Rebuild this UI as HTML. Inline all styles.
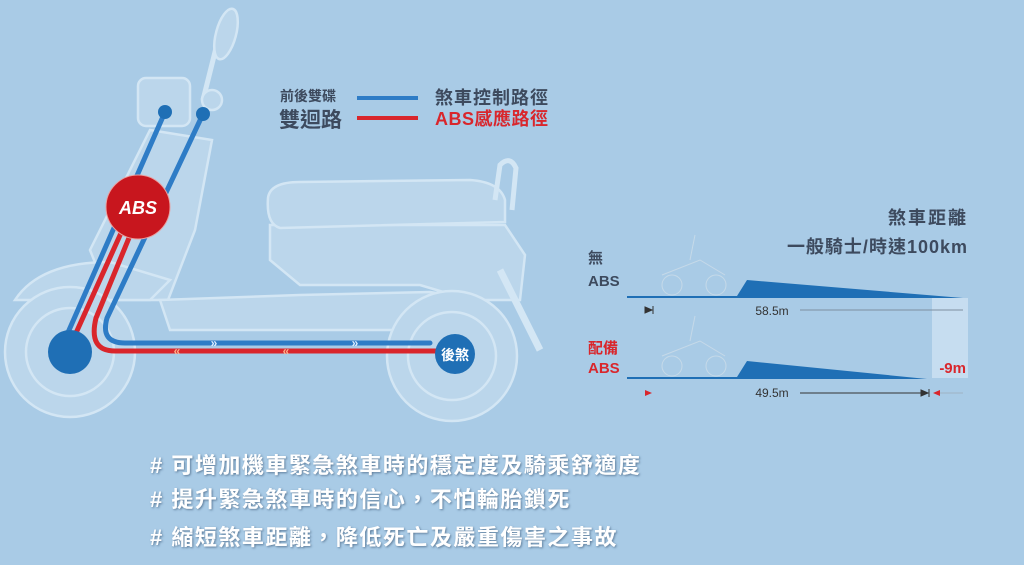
<!DOCTYPE html>
<html><head><meta charset="utf-8"><style>
body{margin:0;background:#a9cbe6;}
svg{display:block}
.t{font-family:"Liberation Sans","Noto Sans CJK TC",sans-serif;}
</style></head><body>
<svg width="1024" height="565" viewBox="0 0 1024 565" xmlns="http://www.w3.org/2000/svg" class="t">
<defs><filter id="sh" x="-5%" y="-30%" width="110%" height="160%"><feDropShadow dx="1" dy="1" stdDeviation="1" flood-color="#3d5a78" flood-opacity="0.7"/></filter></defs>
<rect width="1024" height="565" fill="#a9cbe6"/>
<g fill="#bcd7ec" stroke="#d6e8f5" stroke-width="2.5" opacity="0.95">
 <path d="M203 100 L218 40" fill="none" stroke-width="5"/>
 <ellipse cx="226" cy="34" rx="10" ry="26" transform="rotate(15 226 34)"/>
 <rect x="138" y="78" width="52" height="48" rx="8"/>
 <circle cx="212" cy="100" r="10"/>
 <path d="M150 130 L212 140 L195 230 L168 300 L110 300 L90 250 Z"/>
 <path d="M15 300 Q40 262 110 262 L170 280 L150 300 Z"/>
 <path d="M160 300 L300 295 L430 292 L480 300 L470 330 L170 330 Z"/>
 <path d="M270 225 L505 225 L525 255 L520 300 L470 300 L420 285 L300 285 L270 260 Z"/>
 <path d="M268 198 Q270 182 300 182 L470 180 Q500 182 505 200 L505 222 L280 228 Q266 224 268 198 Z"/>
 <path d="M495 200 L500 165 Q510 155 516 168 L512 210" fill="none" stroke-width="5"/>
 <path d="M500 270 L540 350" fill="none" stroke-width="7"/>
 <circle cx="70" cy="352" r="65"/>
 <circle cx="70" cy="352" r="44" fill="none"/>
 <circle cx="452" cy="356" r="65"/>
 <circle cx="452" cy="356" r="44" fill="none"/>
</g>
<g fill="none" stroke-width="5" stroke-linecap="round">
 <path d="M165 112 L66 337" stroke="#2e7cc6"/>
 <path d="M203 114 L107 318 Q100 343 125 343 L430 343" stroke="#2e7cc6"/>
 <path d="M121 233 L76 333" stroke="#d9262c"/>
 <path d="M131 233 L96 318 Q88 351 115 351 L440 351" stroke="#d9262c"/>
</g>
<g fill="#1f6fb5">
 <circle cx="165" cy="112" r="7"/><circle cx="203" cy="114" r="7"/>
 <circle cx="70" cy="352" r="22"/>
 <circle cx="455" cy="354" r="20"/>
</g>
<text x="455" y="360" font-size="14" font-weight="bold" fill="#fff" text-anchor="middle">後煞</text>
<circle cx="138" cy="207" r="32" fill="#c8161e" stroke="#e9a0a0" stroke-width="1"/>
<text x="138" y="214" font-size="18" font-weight="bold" font-style="italic" fill="#fff" text-anchor="middle">ABS</text>
<g font-size="12" font-weight="bold">
 <text x="214" y="347" fill="#dceeff" text-anchor="middle">»</text>
 <text x="355" y="347" fill="#dceeff" text-anchor="middle">»</text>
 <text x="177" y="355" fill="#ffb08a" text-anchor="middle">«</text>
 <text x="286" y="355" fill="#ffb08a" text-anchor="middle">«</text>
</g>
<text x="280" y="101" font-size="14" font-weight="bold" fill="#3d4a5e">前後雙碟</text>
<text x="279" y="127" font-size="21" font-weight="bold" fill="#3d4a5e">雙迴路</text>
<line x1="357" y1="98" x2="418" y2="98" stroke="#2e7cc6" stroke-width="4"/>
<line x1="357" y1="118" x2="418" y2="118" stroke="#d9262c" stroke-width="4"/>
<text x="435" y="104" font-size="18" font-weight="bold" fill="#3d4a5e" style="letter-spacing:1px">煞車控制路徑</text>
<text x="435" y="125" font-size="18" font-weight="bold" fill="#d9262c" style="letter-spacing:0.5px">ABS感應路徑</text>
<text x="968" y="224" font-size="18" font-weight="bold" fill="#3d4a5e" text-anchor="end" style="letter-spacing:2px">煞車距離</text>
<text x="968" y="253" font-size="18" font-weight="bold" fill="#3d4a5e" text-anchor="end" style="letter-spacing:1px">一般騎士/時速100km</text>
<text x="588" y="263" font-size="15" font-weight="bold" fill="#3d4a5e">無</text>
<text x="588" y="286" font-size="15" font-weight="bold" fill="#3d4a5e">ABS</text>
<text x="588" y="353" font-size="15" font-weight="bold" fill="#d9262c">配備</text>
<text x="588" y="373" font-size="15" font-weight="bold" fill="#d9262c">ABS</text>
<rect x="932" y="298" width="36" height="80" fill="#c6ddf0"/>
<g fill="none" stroke="#c9dbe9" stroke-width="1" opacity="0.9">
 <circle cx="672" cy="285" r="10"/><circle cx="716" cy="285" r="10"/><path d="M662 275 L700 260 L725 275 M690 260 L695 235"/>
 <circle cx="672" cy="366" r="10"/><circle cx="716" cy="366" r="10"/><path d="M662 356 L700 341 L725 356 M690 341 L695 316"/>
</g>
<path d="M627 296 L737 296 L747 280 L963 298 L627 298 Z" fill="#1f6fb5"/>
<path d="M627 377 L737 377 L747 361 L927 379 L627 379 Z" fill="#1f6fb5"/>
<path d="M645 307 L652 310 L645 313 Z M653 306 L653 314" fill="#333" stroke="#333" stroke-width="1"/>
<text x="772" y="315" font-size="12" fill="#333" text-anchor="middle">58.5m</text>
<line x1="800" y1="310" x2="963" y2="310" stroke="#7d8fa0" stroke-width="1"/>
<path d="M645 390 L652 393 L645 396 Z" fill="#d9262c"/>
<text x="772" y="397" font-size="12" fill="#333" text-anchor="middle">49.5m</text>
<line x1="800" y1="393" x2="927" y2="393" stroke="#333" stroke-width="1"/>
<path d="M921 390 L928 393 L921 396 Z M929 389 L929 397" fill="#333" stroke="#333" stroke-width="1"/>
<path d="M940 390 L933 393 L940 396 Z" fill="#d9262c"/>
<line x1="940" y1="393" x2="963" y2="393" stroke="#9fb3c4" stroke-width="1"/>
<text x="966" y="373" font-size="15" font-weight="bold" fill="#d9262c" text-anchor="end">-9m</text>
<g font-size="22" fill="#fff" font-weight="bold" style="letter-spacing:1.5px" filter="url(#sh)">
 <text x="150" y="473">#&#160;可增加機車緊急煞車時的穩定度及騎乘舒適度</text>
 <text x="150" y="507">#&#160;提升緊急煞車時的信心，不怕輪胎鎖死</text>
 <text x="150" y="545">#&#160;縮短煞車距離，降低死亡及嚴重傷害之事故</text>
</g>
</svg>
</body></html>
